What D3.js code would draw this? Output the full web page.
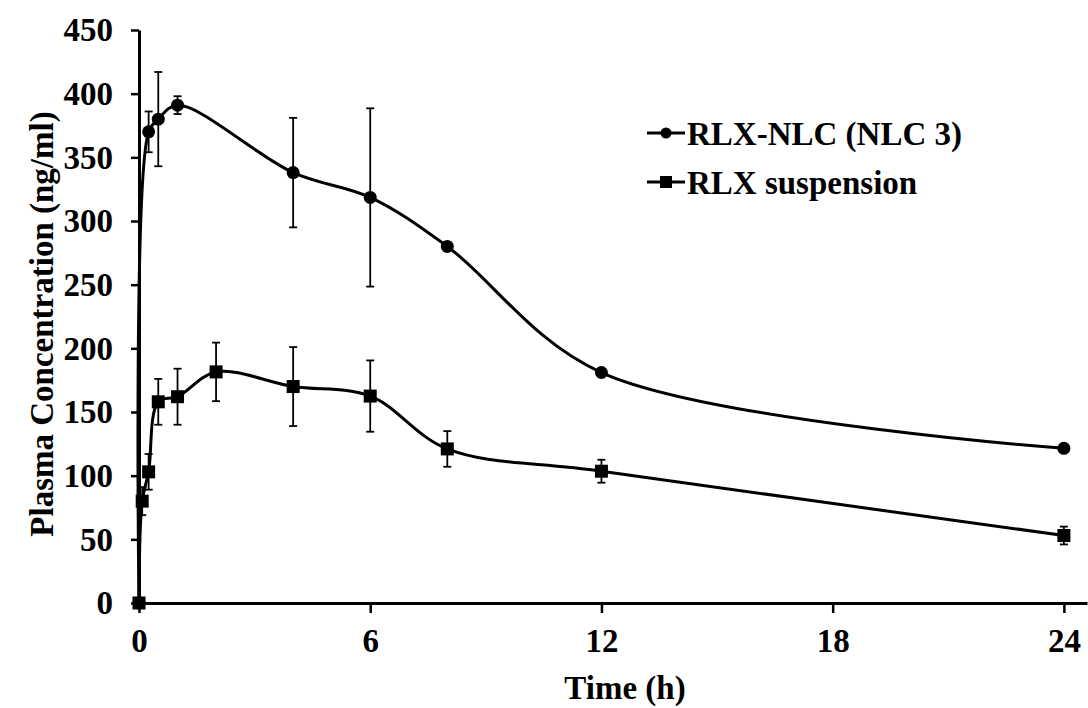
<!DOCTYPE html>
<html>
<head>
<meta charset="utf-8">
<script src="https://cdn.jsdelivr.net/npm/d3@7"></script>
<style>
  body { margin: 0; background: #fff; }
  text { font-family: "Liberation Serif", "Times New Roman", serif; font-weight: bold; fill: #000; }
</style>
</head>
<body>
<script>
// time points (h)
var nlcTime = [0, 0.25, 0.5, 1, 4, 6, 8, 12, 24];
var nlcConc = [0, 370, 380, 391, 338, 318.5, 280, 181, 121.5];
var nlcErr  = [0, 16, 37, 7, 43, 70, 3, 2, 2];

var susTime = [0, 0.083, 0.25, 0.5, 1, 2, 4, 6, 8, 12, 24];
var susConc = [0, 80, 103, 158, 162, 181.5, 170, 162.5, 121, 103.5, 53];
var susErr  = [0, 11, 14, 18, 22, 23, 31, 28, 14, 9, 7];

var xTicks = [0, 6, 12, 18, 24];
var yTicks = [0, 50, 100, 150, 200, 250, 300, 350, 400, 450];

var seriesNames = ["RLX-NLC (NLC 3)", "RLX suspension"];

var W = 1088, H = 708;

var svg = d3.select("body").append("svg")
    .attr("width", W).attr("height", H);

var x = d3.scaleLinear().domain([0, 24.6]).range([139, 1087]);
var y = d3.scaleLinear().domain([0, 450]).range([603, 30]);

// y axis
var yAxis = svg.append("g")
    .attr("transform", "translate(" + x(0) + ",0)")
    .call(d3.axisLeft(y).tickValues(yTicks).tickSize(8).tickSizeOuter(0).tickPadding(18));
yAxis.select(".domain").attr("stroke-width", 3);
yAxis.selectAll(".tick line").attr("stroke-width", 2.5);
yAxis.selectAll(".tick text")
    .attr("font-size", 33).attr("dy", "0.33em")
    .style("font-family", "Liberation Serif").style("font-weight", "bold");

// x axis
var xAxis = svg.append("g")
    .attr("transform", "translate(0," + y(0) + ")")
    .call(d3.axisBottom(x).tickValues(xTicks).tickSize(10).tickSizeOuter(0).tickFormat(d3.format("d")));
xAxis.select(".domain").attr("stroke-width", 3);
xAxis.selectAll(".tick line").attr("stroke-width", 2.5);
xAxis.selectAll(".tick text")
    .attr("font-size", 33).attr("y", 49).attr("dy", 0)
    .style("font-family", "Liberation Serif").style("font-weight", "bold");

// axis titles
svg.append("text")
    .attr("transform", "translate(53,324) rotate(-90)")
    .attr("text-anchor", "middle")
    .attr("font-size", 33)
    .text("Plasma Concentration (ng/ml)");

svg.append("text")
    .attr("x", 625).attr("y", 699)
    .attr("text-anchor", "middle")
    .attr("font-size", 33)
    .text("Time (h)");

function drawSeries(times, conc, err, shape) {
  var pts = times.map(function (t, i) { return { t: t, c: conc[i], e: err[i] }; });
  var g = svg.append("g");

  // error bars
  var eb = g.selectAll(".eb").data(pts.filter(function (d) { return d.e > 0; }))
    .enter().append("g").attr("stroke", "#000").attr("stroke-width", 1.8);
  eb.append("line")
    .attr("x1", function (d) { return x(d.t); }).attr("x2", function (d) { return x(d.t); })
    .attr("y1", function (d) { return y(d.c + d.e); }).attr("y2", function (d) { return y(d.c - d.e); });
  eb.append("line")
    .attr("x1", function (d) { return x(d.t) - 4; }).attr("x2", function (d) { return x(d.t) + 4; })
    .attr("y1", function (d) { return y(d.c + d.e); }).attr("y2", function (d) { return y(d.c + d.e); });
  eb.append("line")
    .attr("x1", function (d) { return x(d.t) - 4; }).attr("x2", function (d) { return x(d.t) + 4; })
    .attr("y1", function (d) { return y(d.c - d.e); }).attr("y2", function (d) { return y(d.c - d.e); });

  var line = d3.line()
    .x(function (d) { return x(d.t); })
    .y(function (d) { return y(d.c); })
    .curve(d3.curveCatmullRom.alpha(0.5));

  g.append("path").datum(pts)
    .attr("d", line)
    .attr("fill", "none").attr("stroke", "#000").attr("stroke-width", 3);

  if (shape === "circle") {
    g.selectAll("circle").data(pts).enter().append("circle")
      .attr("cx", function (d) { return x(d.t); })
      .attr("cy", function (d) { return y(d.c); })
      .attr("r", 6.5).attr("fill", "#000");
  } else {
    g.selectAll("rect").data(pts).enter().append("rect")
      .attr("x", function (d) { return x(d.t) - 6.5; })
      .attr("y", function (d) { return y(d.c) - 6.5; })
      .attr("width", 13).attr("height", 13).attr("fill", "#000");
  }
}

drawSeries(nlcTime, nlcConc, nlcErr, "circle");
drawSeries(susTime, susConc, susErr, "square");

// legend
var legend = svg.append("g");
var legY = [133, 182];
seriesNames.forEach(function (name, i) {
  legend.append("line")
    .attr("x1", 647).attr("x2", 685).attr("y1", legY[i]).attr("y2", legY[i])
    .attr("stroke", "#000").attr("stroke-width", 3);
  if (i === 0) {
    legend.append("circle").attr("cx", 666).attr("cy", legY[i]).attr("r", 5.5).attr("fill", "#000");
  } else {
    legend.append("rect").attr("x", 660).attr("y", legY[i] - 6).attr("width", 12).attr("height", 12).attr("fill", "#000");
  }
  legend.append("text")
    .attr("x", 687).attr("y", legY[i] + 12)
    .attr("font-size", 33)
    .text(name);
});
</script>
</body>
</html>
